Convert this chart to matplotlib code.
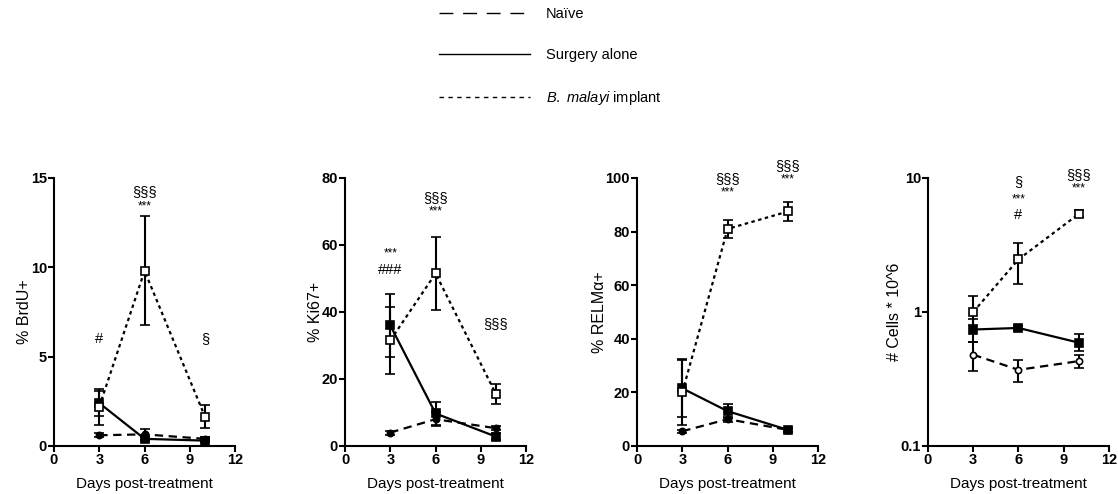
import matplotlib
matplotlib.use("Agg")
import matplotlib.pyplot as plt
from matplotlib.lines import Line2D
import numpy as np

plt.rcParams['font.family'] = ['Liberation Sans', 'DejaVu Sans']
plt.rcParams['mathtext.fontset'] = 'custom'
plt.rcParams['mathtext.rm'] = 'Liberation Sans'
plt.rcParams['mathtext.it'] = 'Liberation Sans:italic'
plt.rcParams['lines.scale_dashes'] = False

days = [3, 6, 10]
groups = ['Naïve', 'Surgery alone', '$\\it{B.}$ $\\it{malayi}$ implant']

# panel 1: % BrdU+
brdu_naive = [0.6, 0.65, 0.4]
brdu_naive_err = [0.1, 0.3, 0.1]
brdu_surg = [2.4, 0.4, 0.3]
brdu_surg_err = [0.7, 0.1, 0.1]
brdu_bm = [2.2, 9.8, 1.65]
brdu_bm_err = [1.0, 3.05, 0.65]

# panel 2: % Ki67+
ki_naive = [4.0, 8.0, 5.3]
ki_naive_err = [0.6, 2.0, 0.6]
ki_surg = [36.0, 9.7, 2.8]
ki_surg_err = [9.5, 3.4, 1.0]
ki_bm = [31.5, 51.5, 15.5]
ki_bm_err = [10.0, 11.0, 3.0]

# panel 3: % RELMa+
relm_naive = [5.5, 10.0, 6.0]
relm_naive_err = [0.6, 1.0, 0.6]
relm_surg = [21.5, 13.0, 6.0]
relm_surg_err = [10.5, 2.5, 0.8]
relm_bm = [20.0, 81.0, 87.5]
relm_bm_err = [12.3, 3.5, 3.6]

# panel 4: # cells * 10^6 (log)
cells_naive = [0.48, 0.37, 0.43]
cells_naive_lo = [0.36, 0.30, 0.38]
cells_naive_hi = [0.60, 0.44, 0.48]
cells_surg = [0.74, 0.76, 0.59]
cells_surg_lo = [0.60, 0.73, 0.51]
cells_surg_hi = [0.88, 0.79, 0.68]
cells_bm = [1.0, 2.47, 5.4]
cells_bm_lo = [0.80, 1.62, 5.1]
cells_bm_hi = [1.32, 3.30, 5.8]

ylabels = ['% BrdU+', '% Ki67+', '% RELMα+', '# Cells * 10^6']
ylims = [(0, 15), (0, 80), (0, 100), (0.1, 10)]
yticks = [[0, 5, 10, 15], [0, 20, 40, 60, 80], [0, 20, 40, 60, 80, 100], [0.1, 1, 10]]
yticklabels = [['0', '5', '10', '15'], ['0', '20', '40', '60', '80'],
               ['0', '20', '40', '60', '80', '100'], ['0.1', '1', '10']]
xticks = [0, 3, 6, 9, 12]

# significance marks: (x, y, text, size)
notes = [
    [(3, 6.0, '#', 10.5), (6, 14.2, '§§§', 10.5), (6, 13.4, '***', 8.5), (10, 6.0, '§', 10.5)],
    [(3, 57.5, '***', 8.5), (3, 52.5, '###', 10.5), (6, 74, '§§§', 10.5), (6, 70, '***', 8.5),
     (10, 36.5, '§§§', 10.5)],
    [(6, 99.5, '§§§', 10.5), (6, 94.5, '***', 8.5), (10, 104.5, '§§§', 10.5), (10, 99.5, '***', 8.5)],
    [(6, 9.3, '§', 10.5), (6, 6.9, '***', 8.5), (6, 5.3, '#', 10.5), (10, 10.5, '§§§', 10.5),
     (10, 8.3, '***', 8.5)],
]

series = [
    (brdu_naive, brdu_naive_err, brdu_surg, brdu_surg_err, brdu_bm, brdu_bm_err),
    (ki_naive, ki_naive_err, ki_surg, ki_surg_err, ki_bm, ki_bm_err),
    (relm_naive, relm_naive_err, relm_surg, relm_surg_err, relm_bm, relm_bm_err),
]
cells_err = [
    [np.subtract(cells_naive, cells_naive_lo), np.subtract(cells_naive_hi, cells_naive)],
    [np.subtract(cells_surg, cells_surg_lo), np.subtract(cells_surg_hi, cells_surg)],
    [np.subtract(cells_bm, cells_bm_lo), np.subtract(cells_bm_hi, cells_bm)],
]

naive_dash = (0, (6, 4))
bm_dash = (0, (2.5, 2.5))

fig = plt.figure(figsize=(11.18, 4.94), dpi=100)
lefts = [0.0483, 0.3086, 0.5698, 0.830]

for i in range(4):
    ax = fig.add_axes([lefts[i], 0.0972, 0.162, 0.5425])
    if i < 3:
        n, ne, s, se, b, be = series[i]
        ys = [n, s, b]
        errs = [ne, se, be]
    else:
        ys = [cells_naive, cells_surg, cells_bm]
        errs = cells_err
        ax.set_yscale('log')
    naive_face = 'white' if i == 3 else 'black'
    styles = [
        dict(ls=naive_dash, marker='o', ms=4.5, mfc=naive_face),
        dict(ls='-', marker='s', ms=5.5, mfc='black'),
        dict(ls=bm_dash, marker='s', ms=5.5, mfc='white'),
    ]
    for y, e, st in zip(ys, errs, styles):
        ax.errorbar(days, y, yerr=e, color='black', lw=1.6, elinewidth=1.5,
                    capsize=3.5, capthick=1.5, mec='black', mew=1.2, **st)
    for x, y, t, sz in notes[i]:
        ax.text(x, y, t, ha='center', va='center', fontsize=sz, clip_on=False)

    ax.set_xlim(0, 12)
    ax.set_ylim(*ylims[i])
    ax.set_xticks(xticks, [str(t) for t in xticks], fontweight='bold')
    ax.set_yticks(yticks[i], yticklabels[i], fontweight='bold')
    ax.yaxis.set_minor_locator(matplotlib.ticker.NullLocator())
    ax.spines['top'].set_visible(False)
    ax.spines['right'].set_visible(False)
    for sp in ['left', 'bottom']:
        ax.spines[sp].set_linewidth(1.5)
    ax.tick_params(width=1.5, length=4, labelsize=10.5, pad=1)
    ax.set_xlabel('Days post-treatment', fontsize=11, labelpad=7)
    ax.set_ylabel(ylabels[i], fontsize=11.5, labelpad=-1)

handles = [
    Line2D([], [], color='black', lw=1, ls=(0, (10, 7))),
    Line2D([], [], color='black', lw=1, ls='-'),
    Line2D([], [], color='black', lw=1, ls=(0, (3.2, 3.2))),
]
fig.legend(handles, groups, loc='upper left', bbox_to_anchor=(0.393, 0.985),
           frameon=False, fontsize=10.5, handlelength=6.2, handletextpad=1.1,
           labelspacing=1.85, borderpad=0, borderaxespad=0)

fig.savefig('out.png', dpi=100)
